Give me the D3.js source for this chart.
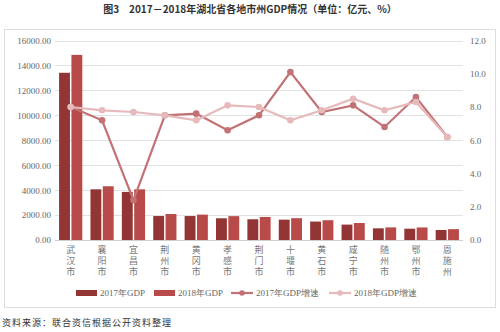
<!DOCTYPE html>
<html><head><meta charset="utf-8">
<script src="https://cdn.jsdelivr.net/npm/d3@7/dist/d3.min.js"></script>
<style>body{margin:0;background:#fff;}svg{display:block;}</style>
</head><body>
<script>
const categories = ["武汉市","襄阳市","宜昌市","荆州市","黄冈市","孝感市","荆门市","十堰市","黄石市","咸宁市","随州市","鄂州市","恩施州"];
const gdp2017 = [13410.34,4064.9,3857.17,1922.18,1921.83,1742.23,1664.17,1632.26,1479.4,1234.91,935.95,905.92,801.03];
const gdp2018 = [14847.29,4309.79,4064.18,2082.18,2035.2,1912.9,1847.89,1747.82,1587.33,1362.42,1011.19,1005.3,870.0];
const growth2017 = [8.0,7.2,2.4,7.5,7.6,6.6,7.5,10.1,7.7,8.1,6.8,8.6,6.2];
const growth2018 = [8.0,7.8,7.7,7.5,7.2,8.1,8.0,7.2,7.8,8.5,7.8,8.3,6.2];
const leftTicks = [0,2000,4000,6000,8000,10000,12000,14000,16000];
const rightTicks = [0,2,4,6,8,10,12];
const legendLabels = ["2017年GDP","2018年GDP","2017年GDP增速","2018年GDP增速"];

const W=500,H=332;
const c17="#943535", c18="#B84a4a", l17="#C27275", l18="#E6B9BB";
const svg=d3.select("body").append("svg").attr("width",W).attr("height",H);
const serif="'Liberation Serif','Times New Roman',serif";
const cjk="'Noto Sans CJK SC',sans-serif";

svg.append("text").attr("x",250).attr("y",13).attr("text-anchor","middle")
  .attr("font-family",cjk).attr("font-size",10).attr("font-weight","bold").attr("fill","#333")
  .text("图3　2017－2018年湖北省各地市州GDP情况（单位：亿元、%）");

svg.append("rect").attr("x",4.5).attr("y",29.5).attr("width",491).attr("height",278)
  .attr("fill","none").attr("stroke","#ddd").attr("stroke-width",1);

const x0=55,x1=463,yT=40.5,yB=240;
const x=d3.scaleBand().domain(categories).range([x0,x1]).paddingInner(0.26).paddingOuter(0.13);
const xs=d3.scaleBand().domain(["a","b"]).range([0,x.bandwidth()]).paddingInner(0.12);
const yL=d3.scaleLinear().domain([0,16000]).range([yB,yT]);
const yR=d3.scaleLinear().domain([0,12]).range([yB,yT]);
const xc=d=>x(d)+x.bandwidth()/2;

// grid
svg.append("g").selectAll("line").data(leftTicks).join("line")
  .attr("x1",x0).attr("x2",x1).attr("y1",d=>Math.round(yL(d))+0.5).attr("y2",d=>Math.round(yL(d))+0.5)
  .attr("stroke",d=>d===0?"#cfcfcf":"#e2e2e2").attr("stroke-width",1);

// left axis
const gl=svg.append("g").attr("transform",`translate(${x0-4},0)`)
  .call(d3.axisLeft(yL).tickValues(leftTicks).tickSize(0).tickPadding(0).tickFormat(d=>d3.format(".2f")(d)));
gl.select(".domain").remove();
gl.selectAll("text").attr("font-family",serif).attr("font-size",9).attr("fill","#666");
// right axis
const gr=svg.append("g").attr("transform",`translate(${x1+7},0)`)
  .call(d3.axisRight(yR).tickValues(rightTicks).tickSize(0).tickPadding(0).tickFormat(d3.format(".1f")));
gr.select(".domain").remove();
gr.selectAll("text").attr("font-family",serif).attr("font-size",9).attr("fill","#666");

// bars
const bars=svg.append("g");
bars.selectAll(".b17").data(categories).join("rect")
  .attr("x",d=>x(d)+xs("a")).attr("width",xs.bandwidth())
  .attr("y",(d,i)=>yL(gdp2017[i])).attr("height",(d,i)=>yB-yL(gdp2017[i])).attr("fill",c17);
bars.selectAll(".b18").data(categories).join("rect")
  .attr("x",d=>x(d)+xs("b")).attr("width",xs.bandwidth())
  .attr("y",(d,i)=>yL(gdp2018[i])).attr("height",(d,i)=>yB-yL(gdp2018[i])).attr("fill",c18);

// lines
const line=d3.line().x(d=>xc(d[0])).y(d=>yR(d[1]));
function drawLine(vals,col){
  const pts=categories.map((c,i)=>[c,vals[i]]);
  svg.append("path").attr("d",line(pts)).attr("fill","none").attr("stroke",col).attr("stroke-width",2.2);
  svg.append("g").selectAll("circle").data(pts).join("circle")
    .attr("cx",d=>xc(d[0])).attr("cy",d=>yR(d[1])).attr("r",3.3).attr("fill",col);
}
drawLine(growth2017,l17);
drawLine(growth2018,l18);

// category labels (vertical)
svg.append("g").selectAll("text").data(categories).join("text")
  .attr("x",d=>xc(d)).attr("y",245)
  .attr("writing-mode","vertical-rl").attr("text-anchor","start")
  .attr("font-family",cjk).attr("font-size",9).attr("letter-spacing",2).attr("fill","#777")
  .text(d=>d);

// legend
const ly=293;
const lg=svg.append("g").attr("font-family",serif).attr("font-size",9).attr("fill","#666");
lg.append("rect").attr("x",76).attr("y",ly-3).attr("width",21).attr("height",6).attr("fill",c17);
lg.append("text").attr("x",100).attr("y",ly+3).text(legendLabels[0]);
lg.append("rect").attr("x",154).attr("y",ly-3).attr("width",21).attr("height",6).attr("fill",c18);
lg.append("text").attr("x",178).attr("y",ly+3).text(legendLabels[1]);
lg.append("line").attr("x1",231).attr("x2",253).attr("y1",ly).attr("y2",ly).attr("stroke",l17).attr("stroke-width",2.2);
lg.append("circle").attr("cx",242).attr("cy",ly).attr("r",2.8).attr("fill",l17);
lg.append("text").attr("x",256).attr("y",ly+3).text(legendLabels[2]);
lg.append("line").attr("x1",329).attr("x2",351).attr("y1",ly).attr("y2",ly).attr("stroke",l18).attr("stroke-width",2.2);
lg.append("circle").attr("cx",340).attr("cy",ly).attr("r",2.8).attr("fill",l18);
lg.append("text").attr("x",354).attr("y",ly+3).text(legendLabels[3]);

svg.append("text").attr("x",2).attr("y",326).attr("font-family",cjk).attr("font-size",9)
  .attr("fill","#333").attr("letter-spacing",1).text("资料来源：联合资信根据公开资料整理");
</script>
</body></html>
